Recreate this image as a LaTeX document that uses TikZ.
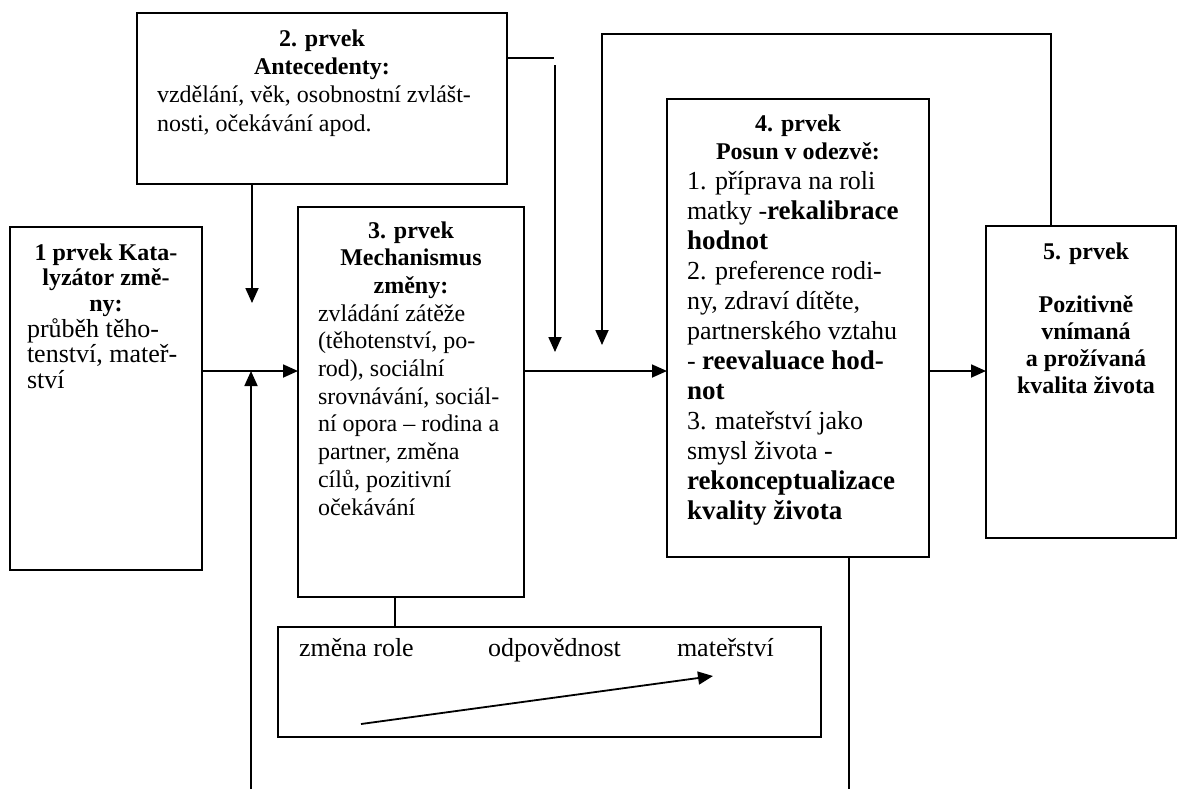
\documentclass[tikz,border=0pt]{standalone}
\usepackage{fontspec}
\setmainfont{Liberation Serif}
\usetikzlibrary{arrows.meta}
\newcommand{\strongpart}[1]{{\bfseries\fontsize{13.5}{15}\selectfont #1}}
\begin{document}
\begin{tikzpicture}[x=0.5pt,y=-0.5pt,
  box/.style={draw, line width=0.9pt, inner sep=0pt, outer sep=0pt, anchor=north west},
  txt/.style={inner sep=0pt, outer sep=0pt, anchor=base west},
  link/.style={line width=0.9pt},
  arr/.style={line width=0.9pt, -{Triangle[length=7.5pt,width=6.5pt]}}]
\fill[white] (0,0) rectangle (1178,789);
\useasboundingbox (0,0) rectangle (1178,789);

% boxes
\node[box, minimum width=96pt,  minimum height=171.5pt] (b1) at (10,227) {};
\node[box, minimum width=185pt, minimum height=85.5pt]  (b2) at (137,13) {};
\node[box, minimum width=113pt, minimum height=195pt]   (b3) at (298,207) {};
\node[box, minimum width=131pt, minimum height=229pt]   (b4) at (667,99) {};
\node[box, minimum width=95pt,  minimum height=156pt]   (b5) at (986,226) {};
\node[box, minimum width=271.5pt, minimum height=55pt]  (b6) at (278,627) {};

% box texts
\node[txt] (t1) at (27,260) {\begin{minipage}[t]{79pt}
  {\centering\bfseries\fontsize{12}{12.85}\selectfont 1 prvek Kata-\\lyzátor změ-\\ny:\par}
  \raggedright\fontsize{13}{12.85}\selectfont průběh těho-\\tenství, mateř-\\ství
\end{minipage}};

\node[txt] (t2) at (157,46) {\begin{minipage}[t]{165pt}
  {\centering\bfseries\fontsize{12}{14.2}\selectfont 2. prvek\\Antecedenty:\par}
  \raggedright\fontsize{12}{14.2}\selectfont vzdělání, věk, osobnostní zvlášt-\\nosti, očekávání apod.
\end{minipage}};

\node[txt] (t3) at (318,238) {\begin{minipage}[t]{93pt}
  {\centering\bfseries\fontsize{12}{13.85}\selectfont 3. prvek\\Mechanismus\\změny:\par}
  \raggedright\fontsize{12}{13.85}\selectfont zvládání zátěže\\(těhotenství, po-\\rod), sociální\\srovnávání, sociál-\\ní opora – rodina a\\partner, změna\\cílů, pozitivní\\očekávání
\end{minipage}};

\node[txt] (t4) at (687,131) {\begin{minipage}[t]{111pt}
  {\centering\bfseries\fontsize{12}{14}\selectfont 4. prvek\\Posun v odezvě:\par}
  \raggedright\fontsize{13}{15}\selectfont
  1. příprava na roli\\
  matky -\strongpart{rekalibrace}\\
  \strongpart{hodnot}\\
  2. preference rodi-\\
  ny, zdraví dítěte,\\
  partnerského vztahu\\
  - \strongpart{reevaluace hod-}\\
  \strongpart{not}\\
  3. mateřství jako\\
  smysl života -\\
  \strongpart{rekonceptualizace}\\
  \strongpart{kvality života}
\end{minipage}};

\node[txt] (t5) at (1005,259) {\begin{minipage}[t]{81pt}
  \centering\bfseries\fontsize{12}{13.4}\selectfont 5. prvek\\[13.4pt]Pozitivně\\vnímaná\\a prožívaná\\kvalita života
\end{minipage}};

\node[txt, font=\fontsize{13}{15}\selectfont] (t6a) at (299,656) {změna role};
\node[txt, font=\fontsize{13}{15}\selectfont] (t6b) at (488,656) {odpovědnost};
\node[txt, font=\fontsize{13}{15}\selectfont] (t6c) at (677,656) {mateřství};

% helper points
\coordinate (yline) at (0,371);
\coordinate (a2end) at (252,303);
\coordinate (upstart) at (251,789);
\coordinate (hend) at (554,58);
\coordinate (vtop) at (555,65);
\coordinate (vtip) at (555,352);
\coordinate (loopR) at (1051,34);
\coordinate (loopL) at (602,34);
\coordinate (looptip) at (602,345);
\coordinate (c3) at (395,0);
\coordinate (d4) at (849,789);
\coordinate (rs) at (361,724);
\coordinate (re) at (713,676);

% connectors
\draw[arr] (b1.east |- yline) -- (b3.west |- yline);
\draw[arr] (a2end |- b2.south) -- (a2end);
\draw[arr] (upstart) -- (upstart |- yline);
\draw[link] (b2.east |- hend) -- (hend);
\draw[arr] (vtop) -- (vtip);
\draw[arr] (b3.east |- yline) -- (b4.west |- yline);
\draw[arr] (b4.east |- yline) -- (b5.west |- yline);
\draw[arr] (loopR |- b5.north) -- (loopR) -- (loopL) -- (looptip);
\draw[link] (c3 |- b3.south) -- (c3 |- b6.north);
\draw[link] (d4 |- b4.south) -- (d4);
\draw[arr] (rs) -- (re);
\end{tikzpicture}
\end{document}
